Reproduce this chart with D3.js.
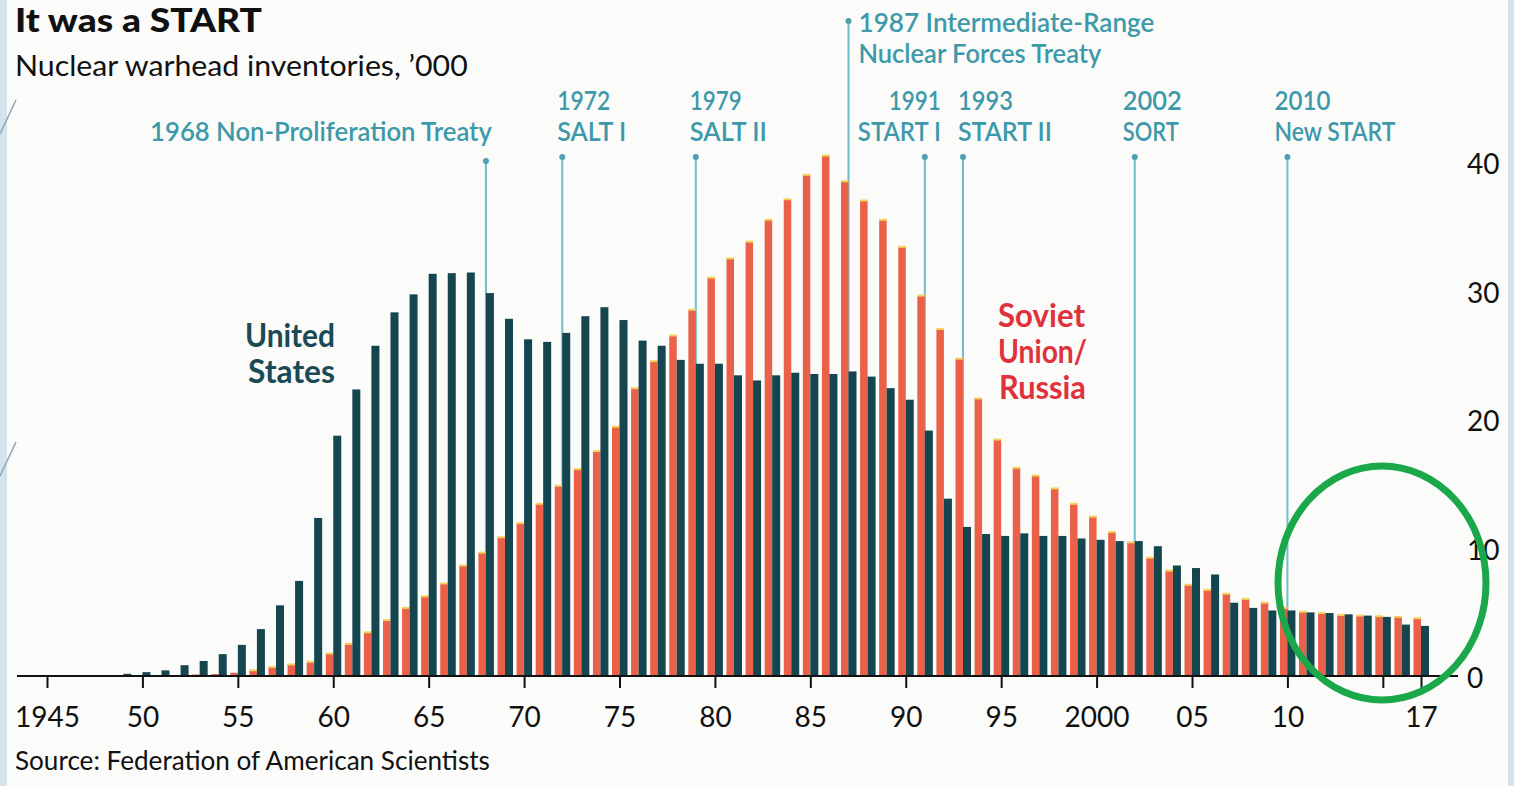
<!DOCTYPE html>
<html>
<head>
<meta charset="utf-8">
<script src="https://cdn.jsdelivr.net/npm/d3@7"></script>
<style>
  html, body { margin:0; padding:0; background:#fbfbf9; overflow:hidden; }
  svg { display:block; }
  text { font-family: Lato, "Open Sans", sans-serif; }
</style>
</head>
<body>
<div id="chart"></div>
<script>
// years on the x axis
var years = [1945,1946,1947,1948,1949,1950,1951,1952,1953,1954,1955,1956,1957,1958,1959,
  1960,1961,1962,1963,1964,1965,1966,1967,1968,1969,1970,1971,1972,1973,1974,
  1975,1976,1977,1978,1979,1980,1981,1982,1983,1984,1985,1986,1987,1988,1989,
  1990,1991,1992,1993,1994,1995,1996,1997,1998,1999,2000,2001,2002,2003,2004,
  2005,2006,2007,2008,2009,2010,2011,2012,2013,2014,2015,2016,2017];

// warheads, '000
var usWarheads = [0.002,0.009,0.013,0.05,0.17,0.30,0.44,0.84,1.17,1.70,2.42,3.65,5.5,7.4,12.3,
  18.7,22.3,25.7,28.3,29.7,31.3,31.35,31.4,29.8,27.8,26.2,26.0,26.7,28.0,28.7,
  27.7,26.1,25.7,24.6,24.3,24.3,23.4,23.0,23.4,23.6,23.5,23.5,23.7,23.3,22.4,
  21.5,19.1,13.8,11.6,11.05,10.9,11.1,10.9,10.9,10.7,10.6,10.5,10.5,10.1,8.6,
  8.4,7.9,5.7,5.3,5.1,5.1,4.95,4.9,4.8,4.7,4.6,4.0,3.9];

var russiaWarheads = [0,0,0,0,0.001,0.005,0.025,0.05,0.12,0.15,0.25,0.45,0.7,0.9,1.1,
  1.75,2.5,3.4,4.35,5.3,6.2,7.2,8.6,9.6,10.8,11.9,13.4,14.8,16.1,17.5,
  19.4,22.4,24.5,26.5,28.5,31.0,32.5,33.8,35.5,37.1,39.0,40.5,38.5,37.0,35.5,
  33.4,29.6,27.0,24.7,21.6,18.4,16.2,15.6,14.6,13.4,12.4,11.2,10.4,9.2,8.2,
  7.1,6.7,6.4,6.0,5.7,5.3,5.0,4.9,4.75,4.7,4.65,4.6,4.5];

var yTicks = [0,10,20,30,40];
var xTickYears = [1945,1950,1955,1960,1965,1970,1975,1980,1985,1990,1995,2000,2005,2010,2015,2017];
var xTickLabels = ["1945","50","55","60","65","70","75","80","85","90","95","2000","05","10","","17"];

var treatyYears = [1968,1972,1979,1987,1991,1993,2002,2010];
var treatyLabels = [
  ["1968 Non-Proliferation Treaty"],
  ["1972","SALT I"],
  ["1979","SALT II"],
  ["1987 Intermediate-Range","Nuclear Forces Treaty"],
  ["1991","START I"],
  ["1993","START II"],
  ["2002","SORT"],
  ["2010","New START"]
];

var width = 1514, height = 786;
var usColor = "#15454f", ruColor = "#ea6049", treatyColor = "#3d99aa";

var svg = d3.select("#chart").append("svg")
  .attr("width", width)
  .attr("height", height);

svg.append("rect").attr("width", width).attr("height", height).attr("fill", "#fbfbf9");
// slide edges
svg.append("rect").attr("x", 0).attr("y", 0).attr("width", 7).attr("height", height).attr("fill", "#d5e4ec");
svg.append("rect").attr("x", 1508).attr("y", 0).attr("width", 6).attr("height", height).attr("fill", "#d5e4ec");
svg.append("line").attr("x1", 0).attr("y1", 134).attr("x2", 16).attr("y2", 100)
  .attr("stroke", "#8aa6b8").attr("stroke-width", 1.5);
svg.append("line").attr("x1", 0).attr("y1", 476).attr("x2", 16).attr("y2", 442)
  .attr("stroke", "#8aa6b8").attr("stroke-width", 1.5);

var x = d3.scaleLinear().domain([1945, 2017]).range([47, 1421]);
var y = d3.scaleLinear().domain([0, 40]).range([676, 162]);
var pair = d3.scaleBand().domain(["russia", "us"]).range([-7.5, 7.5]);

var data = years.map(function(yr, i) {
  return {year: yr, us: usWarheads[i], russia: russiaWarheads[i]};
});

// write a text, squeezed sideways to a given width (the original face is narrow)
function label(parent, str, px, py, size, anchor, fill, weight, w) {
  var t = parent.append("text")
    .attr("text-anchor", anchor)
    .attr("fill", fill)
    .style("font-size", size + "px")
    .style("font-weight", weight)
    .text(str);
  var k = w ? w / t.node().getComputedTextLength() : 1;
  t.attr("transform", "translate(" + px + "," + py + ") scale(" + k + ",1)");
  return t;
}

// treaty markers sit behind the bars
var treatyLayout = {
  1968: {anchor: "end", dx: 6, base: [141], dot: 161, w: [342]},
  1972: {anchor: "start", dx: -5, base: [110, 141], dot: 157, w: [53, 69]},
  1979: {anchor: "start", dx: -6, base: [110, 141], dot: 157, w: [52, 77]},
  1987: {anchor: "start", dx: 10, base: [32, 63], dot: 21, w: [296, 243]},
  1991: {anchor: "end", dx: 16, base: [110, 141], dot: 157, w: [52, 83]},
  1993: {anchor: "start", dx: -5, base: [110, 141], dot: 157, w: [55, 94]},
  2002: {anchor: "start", dx: -12, base: [110, 141], dot: 157, w: [59, 56]},
  2010: {anchor: "start", dx: -13, base: [110, 141], dot: 157, w: [56, 121]}
};

var treaties = svg.append("g").attr("class", "treaties");
treatyYears.forEach(function(yr, i) {
  var lay = treatyLayout[yr];
  treaties.append("line")
    .attr("x1", x(yr)).attr("x2", x(yr))
    .attr("y1", lay.dot).attr("y2", y(0))
    .attr("stroke", "#72bccb").attr("stroke-width", 2);
  treaties.append("circle")
    .attr("cx", x(yr)).attr("cy", lay.dot).attr("r", 3)
    .attr("fill", "#4f9fb0");
  treatyLabels[i].forEach(function(line, j) {
    label(treaties, line, x(yr) + lay.dx, lay.base[j], 27, lay.anchor, treatyColor, 600, lay.w[j]);
  });
});

// bars
var bars = svg.append("g").attr("class", "bars");
bars.selectAll(".ru")
  .data(data)
  .enter()
  .append("rect")
  .attr("class", "ru")
  .attr("x", function(d) { return x(d.year) + pair("russia"); })
  .attr("y", function(d) { return y(d.russia); })
  .attr("width", pair.bandwidth())
  .attr("height", function(d) { return y(0) - y(d.russia); })
  .attr("fill", ruColor);

// the print gives the red bars a yellowish top edge
bars.selectAll(".ru-cap")
  .data(data.filter(function(d) { return d.russia > 0.3; }))
  .enter()
  .append("rect")
  .attr("class", "ru-cap")
  .attr("x", function(d) { return x(d.year) + pair("russia"); })
  .attr("y", function(d) { return y(d.russia) - 1; })
  .attr("width", pair.bandwidth())
  .attr("height", 2)
  .attr("fill", "#f2d35c");

bars.selectAll(".us")
  .data(data)
  .enter()
  .append("rect")
  .attr("class", "us")
  .attr("x", function(d) { return x(d.year) + pair("us"); })
  .attr("y", function(d) { return y(d.us); })
  .attr("width", pair.bandwidth() + 0.5)
  .attr("height", function(d) { return y(0) - y(d.us); })
  .attr("fill", usColor);

// x axis
var xAxis = d3.axisBottom(x)
  .tickValues(xTickYears)
  .tickSize(12)
  .tickPadding(19)
  .tickFormat(function(d, i) { return xTickLabels[i]; });

var gx = svg.append("g")
  .attr("transform", "translate(0," + y(0) + ")")
  .call(xAxis);
gx.select(".domain").remove();
gx.selectAll(".tick line").attr("stroke", "#111").attr("stroke-width", 2);
gx.selectAll(".tick text")
  .attr("fill", "#111")
  .style("font-size", "28px")
  .style("font-family", "Lato, sans-serif");

svg.append("line")
  .attr("x1", x(1945) - 30).attr("x2", x(2017) + 37)
  .attr("y1", y(0)).attr("y2", y(0))
  .attr("stroke", "#111").attr("stroke-width", 2);

// y axis on the right
var yAxis = d3.axisRight(y)
  .tickValues(yTicks)
  .tickSize(0)
  .tickPadding(0);

var gy = svg.append("g")
  .attr("transform", "translate(1467,0)")
  .call(yAxis);
gy.select(".domain").remove();
gy.selectAll(".tick text")
  .attr("fill", "#111")
  .attr("dy", "0.42em")
  .style("font-size", "28px")
  .style("font-family", "Lato, sans-serif");

// titles
label(svg, "It was a START", 15, 32, 32, "start", "#111", 900, 247);
label(svg, "Nuclear warhead inventories, \u2019000", 15, 76, 29, "start", "#111", 400, 453);
label(svg, "Source: Federation of American Scientists", 15, 770, 27, "start", "#111", 400, 475);

// series names
label(svg, "United", 335, 347, 33, "end", "#1b4a57", 700, 90);
label(svg, "States", 335, 383, 33, "end", "#1b4a57", 700, 87);
label(svg, "Soviet", 998, 327, 33, "start", "#e0323c", 700, 87);
label(svg, "Union/", 998, 363, 33, "start", "#e0323c", 700, 89);
label(svg, "Russia", 999, 399, 33, "start", "#e0323c", 700, 87);

// highlight ring round the last years
svg.append("ellipse")
  .attr("cx", 1382).attr("cy", 583)
  .attr("rx", 104).attr("ry", 117)
  .attr("fill", "none")
  .attr("stroke", "#1aa84b")
  .attr("stroke-width", 7);
</script>
</body>
</html>
